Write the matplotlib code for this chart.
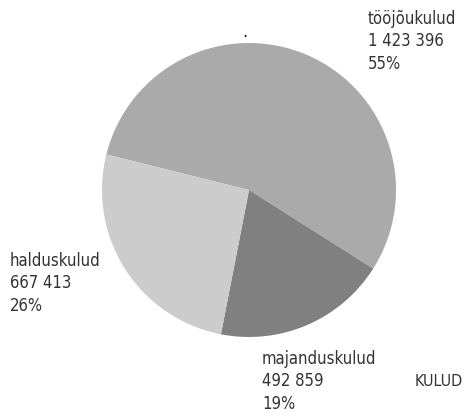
import matplotlib
matplotlib.use('Agg')
import matplotlib.pyplot as plt
from matplotlib import font_manager as fm

labels = ['tööjõukulud', 'majanduskulud', 'halduskulud']
values = [1423396, 492859, 667413]
percents = ['55%', '19%', '26%']
colors = ['#aaaaaa', '#808080', '#cccccc']

W, H = 467, 418
fig = plt.figure(figsize=(W / 100, H / 100), dpi=100)

fp = fm.FontProperties(family='DejaVu Sans', stretch='condensed', size=12)

# pie centre ~ (249,190) px, radius ~147 px
cx, cy, r = 249, 190, 147
ax = fig.add_axes([(cx - r) / W, (H - cy - r) / H, 2 * r / W, 2 * r / H])
ax.pie(values, colors=colors, startangle=166, counterclock=False,
       wedgeprops=dict(linewidth=0))
ax.set_xlim(-1, 1)
ax.set_ylim(-1, 1)
ax.axis('off')

def fmt(v):
    return f'{v:,}'.replace(',', ' ')

pos = [(368, 10), (262, 350), (10, 252)]
for lab, v, p, (x, y) in zip(labels, values, percents, pos):
    fig.text(x / W, 1 - y / H, f'{lab}\n{fmt(v)}\n{p}', fontproperties=fp,
             color='#333333', linespacing=1.32, va='top', ha='left')

fig.text(415 / W, 1 - 382 / H, 'KULUD', fontproperties=fp, color='#333333',
         va='center', ha='left', fontsize=11.5)
# small tick mark above the pie
fig.text(245 / W, 1 - 37 / H, '.', fontsize=12, color='#222222', ha='center', va='baseline')

fig.savefig('out.png', dpi=100)
